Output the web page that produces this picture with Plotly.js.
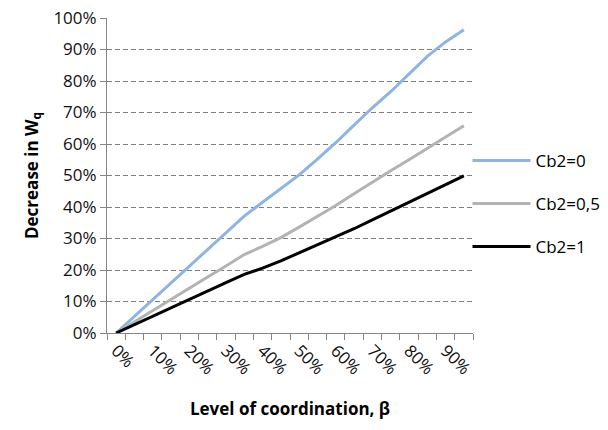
<!DOCTYPE html>
<html>
<head>
<meta charset="utf-8">
<script src="https://cdn.plot.ly/plotly-3.0.1.min.js"></script>
<style>html,body{margin:0;padding:0;background:#fff;}#chart{width:608px;height:430px;}</style>
</head>
<body>
<div id="chart"></div>
<script>
// Level of coordination (beta), one point per 5%
const beta = [0,0.05,0.10,0.15,0.20,0.25,0.30,0.35,0.40,0.45,0.50,0.55,0.60,0.65,0.70,0.75,0.80,0.85,0.90,0.95];
const tickValues = [0,0.1,0.2,0.3,0.4,0.5,0.6,0.7,0.8,0.9];
const tickLabels = ["0%","10%","20%","30%","40%","50%","60%","70%","80%","90%"];
const seriesNames = ["Cb2=0","Cb2=0,5","Cb2=1"];
// Decrease in Wq
const cb2_0  = [0,0.053,0.106,0.159,0.212,0.265,0.318,0.371,0.415,0.458,0.502,0.552,0.604,0.660,0.715,0.766,0.822,0.878,0.924,0.963];
const cb2_05 = [0,0.036,0.071,0.107,0.142,0.178,0.213,0.249,0.275,0.303,0.336,0.370,0.405,0.442,0.479,0.515,0.550,0.586,0.622,0.658];
const cb2_1  = [0,0.027,0.053,0.080,0.106,0.133,0.160,0.186,0.206,0.229,0.254,0.279,0.304,0.331,0.359,0.387,0.416,0.444,0.472,0.499];

const colors = ["#8DB4E2","#B3B3B3","#000000"];
const ys = [cb2_0, cb2_05, cb2_1];
const font = "Open Sans, Lato, sans-serif";

const traces = ys.map((y,i)=>({
  x: beta, y: y, type: "scatter", mode: "lines", name: seriesNames[i],
  legendgroup: "g"+i,
  line: {color: colors[i], width: 3}
}));

const layout = {
  width: 608, height: 430,
  margin: {l: 107, r: 135, t: 18, b: 97, autoexpand: false},
  paper_bgcolor: "#fff", plot_bgcolor: "#fff",
  font: {family: font, size: 17, color: "#111"},
  showlegend: true,
  legend: {x: 0.985, xanchor: "left", y: 0.41, yanchor: "middle", tracegroupgap: 18, itemwidth: 58,
           font: {family: font, size: 17, color: "#000"}, bgcolor: "rgba(0,0,0,0)"},
  xaxis: {
    range: [-0.025, 0.975],
    tickvals: tickValues, ticktext: tickLabels, tickangle: 45,
    ticks: "", showgrid: false, zeroline: false,
    showline: true, linecolor: "#868686", linewidth: 1,
    minor: {tick0: -0.025, dtick: 0.05, ticks: "outside", ticklen: 6, tickcolor: "#868686", showgrid: false},
    tickfont: {family: font, size: 17, color: "#111"},
    title: {text: "<b>Level of coordination, β</b>", font: {family: font, size: 17, color: "#000"}, standoff: 24}
  },
  yaxis: {
    range: [0, 1], dtick: 0.1, tickformat: ".0%",
    ticks: "outside", ticklen: 6, tickcolor: "#868686",
    showgrid: true, gridcolor: "#808080", griddash: "5px,3px", gridwidth: 1,
    zeroline: false, showline: true, linecolor: "#868686", linewidth: 1,
    tickfont: {family: font, size: 17, color: "#111"},
    title: {text: "<b>Decrease in W<sub>q</sub></b>", font: {family: font, size: 17, color: "#000"}, standoff: 10}
  }
};

Plotly.newPlot("chart", traces, layout, {displayModeBar: false, staticPlot: true});
</script>
</body>
</html>
